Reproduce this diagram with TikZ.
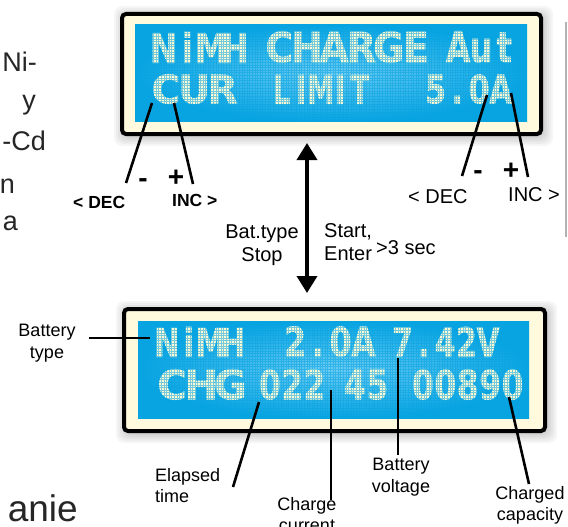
\documentclass[tikz,border=0pt]{standalone}
\usepackage{fontspec}
\setmainfont{Liberation Sans}
\newfontfamily\lcdfont{DejaVu Sans Bold}[FakeBold=1.4]
\usetikzlibrary{arrows.meta,positioning}
\definecolor{lcdblue}{RGB}{8,164,226}
\definecolor{lcdglow}{RGB}{112,205,243}
\definecolor{lcdtext}{RGB}{255,250,212}
\definecolor{bezel}{RGB}{255,249,222}
\def\lcdcells#1{\ifx#1\relax\else\makebox[0.72em]{#1}\expandafter\lcdcells\fi}
\newcommand\lcdword[3]{\resizebox{#1pt}{#2pt}{\lcdfont\lcdcells#3\relax}}

\begin{document}
\begin{tikzpicture}[
        x=1pt, y=-1pt,
        font=\fontsize{18}{21.5}\selectfont,
        bezelbox/.style={draw, line width=4pt, rounded corners=4pt, fill=bezel},
        halo/.style={fill=black, opacity=0.035, rounded corners=8pt},
        screen/.style={inner color=lcdglow, outer color=lcdblue},
        pixgrid/.style={draw=lcdblue, line width=0.6pt, opacity=0.55, step=2.6pt},
        lcd/.style={anchor=south west, inner sep=0pt, text=lcdtext},
        lead/.style={line width=2.6pt},
        lbl/.style={align=center, inner sep=0pt, anchor=north},
        btnlbl/.style={inner sep=0pt, anchor=base west, font=\bfseries\fontsize{17.5}{20}\selectfont},
        btnthin/.style={inner sep=0pt, anchor=base west, font=\fontsize{20}{24}\selectfont},
        signlbl/.style={inner sep=0pt, anchor=base, font=\bfseries\fontsize{28}{28}\selectfont},
        notelbl/.style={align=center, inner sep=0pt, font=\fontsize{20}{23}\selectfont},
        pagetxt/.style={anchor=base east, inner sep=0pt, text=black!85, font=\fontsize{27}{30}\selectfont},
        arr/.style={{Triangle[width=20pt,length=17pt]}-{Triangle[width=20pt,length=17pt]}, line width=3.6pt}
    ]
    \useasboundingbox[fill=white] (0,0) rectangle (568,527);

    % text of the page around the figure, cut by the crop
    \node[pagetxt] (pg1) at (37,72) {Ni-};
    \node[pagetxt] (pg2) at (36,110) {y};
    \node[pagetxt] (pg3) at (46,150) {-Cd};
    \node[pagetxt] (pg4) at (15,193) {n};
    \node[pagetxt] (pg5) at (18,230) {a};
    \node[pagetxt, font=\fontsize{37}{40}\selectfont] (pg6) at (78,521) {anie};
    \draw[gray!60, line width=1.5pt] (566,22) -- (566,237);

    % upper display
    \foreach \g in {2,4,...,10}
        \fill[halo] (124-\g,16-\g) rectangle (543+\g,136+\g);
    \draw[bezelbox] (122,14) rectangle (541,134);
    \shade[screen] (135,25) rectangle (527,121);
    \node[lcd] (uNimh) at (151.5,63) {\lcdword{95}{31}{NiMH}};
    \node[lcd] (uCharge) at (265.5,63) {\lcdword{164}{31}{CHARGE}};
    \node[lcd] (uAut) at (446.5,63) {\lcdword{69}{31}{Aut}};
    \node[lcd] (uCur) at (151.5,104) {\lcdword{85}{29}{CUR}};
    \node[lcd] (uLimit) at (271.5,104) {\lcdword{98}{29}{LIMIT}};
    \node[lcd] (uAmp) at (424.5,104) {\lcdword{87}{29}{5.0A}};
    \draw[pixgrid] (135,25) grid (527,121);

    % lower display
    \foreach \g in {2,4,...,10}
        \fill[halo] (126-\g,311-\g) rectangle (547+\g,433+\g);
    \draw[bezelbox] (124,309) rectangle (545,431);
    \shade[screen] (138,321) rectangle (529,418);
    \node[lcd] (lNimh) at (155.5,357) {\lcdword{88}{30}{NiMH}};
    \node[lcd] (lAmp) at (283.5,357) {\lcdword{91}{30}{2.0A}};
    \node[lcd] (lVolt) at (391.5,357) {\lcdword{107}{30}{7.42V}};
    \node[lcd] (lChg) at (157.5,400) {\lcdword{87}{30}{CHG}};
    \node[lcd] (lMin) at (258.5,400) {\lcdword{67}{30}{022}};
    \node[lcd] (lSec) at (343.5,400) {\lcdword{45}{30}{45}};
    \node[lcd] (lCap) at (411.5,400) {\lcdword{112}{30}{00890}};
    \draw[pixgrid] (138,321) grid (529,418);

    % keys of the upper display
    \coordinate (decA) at (152,103);
    \coordinate (decB) at (126,183);
    \coordinate (incA) at (174,103);
    \coordinate (incB) at (193,184);
    \coordinate (decC) at (487,95);
    \coordinate (decD) at (462,176);
    \coordinate (incC) at (511,93);
    \coordinate (incD) at (528,177);
    \draw[lead] (decA) -- (decB);
    \draw[lead] (incA) -- (incB);
    \draw[lead] (decC) -- (decD);
    \draw[lead] (incC) -- (incD);
    \node[signlbl] (minL) at (143,187) {-};
    \node[signlbl] (plusL) at (176,186) {+};
    \node[signlbl] (minR) at (478,179) {-};
    \node[signlbl] (plusR) at (511,179) {+};
    \node[btnlbl] (decL) at (73,208) {< DEC};
    \node[btnlbl] (incL) at (172,206) {INC >};
    \node[btnthin] (decR) at (408,203) {< DEC};
    \node[btnthin] (incR) at (508,201) {INC >};

    % switching between the two screens
    \coordinate (upBot) at (307,143);
    \coordinate (lowTop) at (307,293);
    \draw[arr] (upBot) -- (lowTop);
    \node[notelbl, anchor=north] (batStop) at (262,225) {Bat.type\\Stop};
    \node[notelbl, anchor=north west, align=left] (start) at (324,223) {Start,\\Enter};
    \node[notelbl, anchor=north west] (hold) at (376,240) {>3 sec};

    % fields of the lower display
    \coordinate (typeA) at (89,338);
    \coordinate (typeB) at (150,338);
    \coordinate (timeA) at (259,402);
    \coordinate (timeB) at (233,487);
    \coordinate (curA) at (331,390);
    \coordinate (curB) at (331,500);
    \coordinate (voltA) at (398,358);
    \coordinate (voltB) at (398,455);
    \coordinate (capA) at (509,397);
    \coordinate (capB) at (529,484);
    \draw[lead] (typeA) -- (typeB);
    \draw[lead] (timeA) -- (timeB);
    \draw[lead] (curA) -- (curB);
    \draw[lead] (voltA) -- (voltB);
    \draw[lead] (capA) -- (capB);
    \node[lbl] (typeLbl) at (47,324) {Battery\\type};
    \node[lbl, anchor=north west, align=left] (timeLbl) at (155,468) {Elapsed\\time};
    \node[lbl] (curLbl) at (307,497) {Charge\\current};
    \node[lbl] (voltLbl) at (401,458) {Battery\\voltage};
    \node[lbl] (capLbl) at (530,486) {Charged\\capacity};
\end{tikzpicture}
\end{document}
